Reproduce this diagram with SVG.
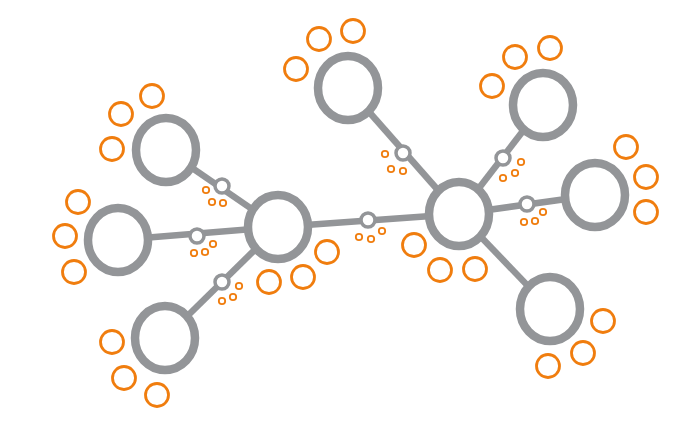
<svg xmlns="http://www.w3.org/2000/svg" width="699" height="422" viewBox="0 0 699 422">
<style>
.link{stroke:#939598;stroke-width:6.5;stroke-linecap:butt;fill:none}
.big{fill:#fff;stroke:#939598;stroke-width:8.5}
.jn{fill:#fff;stroke:#939598;stroke-width:3.5}
.or{fill:none;stroke:#F07D0E;stroke-width:2.8}
.dot{fill:none;stroke:#F07D0E;stroke-width:1.8}
</style>
<rect width="699" height="422" fill="#fff"/>
<g id="connectors">
<line class="link" x1="278" y1="227" x2="166" y2="150"/>
<line class="link" x1="278" y1="227" x2="118" y2="240"/>
<line class="link" x1="278" y1="227" x2="165" y2="338"/>
<line class="link" x1="278" y1="227" x2="459" y2="214"/>
<line class="link" x1="459" y1="214" x2="348" y2="88"/>
<line class="link" x1="459" y1="214" x2="543" y2="105"/>
<line class="link" x1="459" y1="214" x2="595" y2="195"/>
<line class="link" x1="459" y1="214" x2="550" y2="309"/>
</g>
<g id="junctions">
<circle class="jn" cx="222" cy="186" r="7"/>
<circle class="jn" cx="197" cy="236" r="7"/>
<circle class="jn" cx="222" cy="282" r="7"/>
<circle class="jn" cx="368" cy="220" r="7"/>
<circle class="jn" cx="403" cy="153" r="7"/>
<circle class="jn" cx="503" cy="158" r="7"/>
<circle class="jn" cx="527" cy="204" r="7"/>
</g>
<g id="hub-left"><ellipse class="big" cx="278" cy="227" rx="30" ry="32"/></g>
<g id="hub-right"><ellipse class="big" cx="459" cy="214" rx="30" ry="32"/></g>
<g id="node-top-left"><ellipse class="big" cx="166" cy="150" rx="30" ry="32"/></g>
<g id="node-left"><ellipse class="big" cx="118" cy="240" rx="30" ry="32"/></g>
<g id="node-bottom-left"><ellipse class="big" cx="165" cy="338" rx="30" ry="32"/></g>
<g id="node-top"><ellipse class="big" cx="348" cy="88" rx="30" ry="32"/></g>
<g id="node-top-right"><ellipse class="big" cx="543" cy="105" rx="30" ry="32"/></g>
<g id="node-right"><ellipse class="big" cx="595" cy="195" rx="30" ry="32"/></g>
<g id="node-bottom-right"><ellipse class="big" cx="550" cy="309" rx="30" ry="32"/></g>
<g id="orange-groups">
<circle class="or" cx="152" cy="96" r="11.5"/>
<circle class="or" cx="121" cy="114" r="11.5"/>
<circle class="or" cx="112" cy="149" r="11.5"/>
<circle class="or" cx="78" cy="202" r="11.5"/>
<circle class="or" cx="65" cy="236" r="11.5"/>
<circle class="or" cx="74" cy="272" r="11.5"/>
<circle class="or" cx="112" cy="342" r="11.5"/>
<circle class="or" cx="124" cy="378" r="11.5"/>
<circle class="or" cx="157" cy="395" r="11.5"/>
<circle class="or" cx="269" cy="282" r="11.5"/>
<circle class="or" cx="303" cy="277" r="11.5"/>
<circle class="or" cx="327" cy="252" r="11.5"/>
<circle class="or" cx="296" cy="69" r="11.5"/>
<circle class="or" cx="319" cy="39" r="11.5"/>
<circle class="or" cx="353" cy="31" r="11.5"/>
<circle class="or" cx="492" cy="86" r="11.5"/>
<circle class="or" cx="515" cy="57" r="11.5"/>
<circle class="or" cx="550" cy="48" r="11.5"/>
<circle class="or" cx="626" cy="147" r="11.5"/>
<circle class="or" cx="646" cy="177" r="11.5"/>
<circle class="or" cx="646" cy="212" r="11.5"/>
<circle class="or" cx="414" cy="245" r="11.5"/>
<circle class="or" cx="440" cy="270" r="11.5"/>
<circle class="or" cx="475" cy="269" r="11.5"/>
<circle class="or" cx="603" cy="321" r="11.5"/>
<circle class="or" cx="583" cy="353" r="11.5"/>
<circle class="or" cx="548" cy="366" r="11.5"/>
</g>
<g id="dots">
<circle class="dot" cx="206" cy="190" r="3.2"/>
<circle class="dot" cx="212" cy="202" r="3.2"/>
<circle class="dot" cx="223" cy="203" r="3.2"/>
<circle class="dot" cx="194" cy="253" r="3.2"/>
<circle class="dot" cx="205" cy="252" r="3.2"/>
<circle class="dot" cx="213" cy="244" r="3.2"/>
<circle class="dot" cx="222" cy="301" r="3.2"/>
<circle class="dot" cx="233" cy="297" r="3.2"/>
<circle class="dot" cx="239" cy="286" r="3.2"/>
<circle class="dot" cx="385" cy="154" r="3.2"/>
<circle class="dot" cx="391" cy="169" r="3.2"/>
<circle class="dot" cx="403" cy="171" r="3.2"/>
<circle class="dot" cx="503" cy="178" r="3.2"/>
<circle class="dot" cx="515" cy="173" r="3.2"/>
<circle class="dot" cx="521" cy="162" r="3.2"/>
<circle class="dot" cx="524" cy="222" r="3.2"/>
<circle class="dot" cx="535" cy="221" r="3.2"/>
<circle class="dot" cx="543" cy="212" r="3.2"/>
<circle class="dot" cx="359" cy="237" r="3.2"/>
<circle class="dot" cx="371" cy="239" r="3.2"/>
<circle class="dot" cx="382" cy="231" r="3.2"/>
</g>
</svg>
